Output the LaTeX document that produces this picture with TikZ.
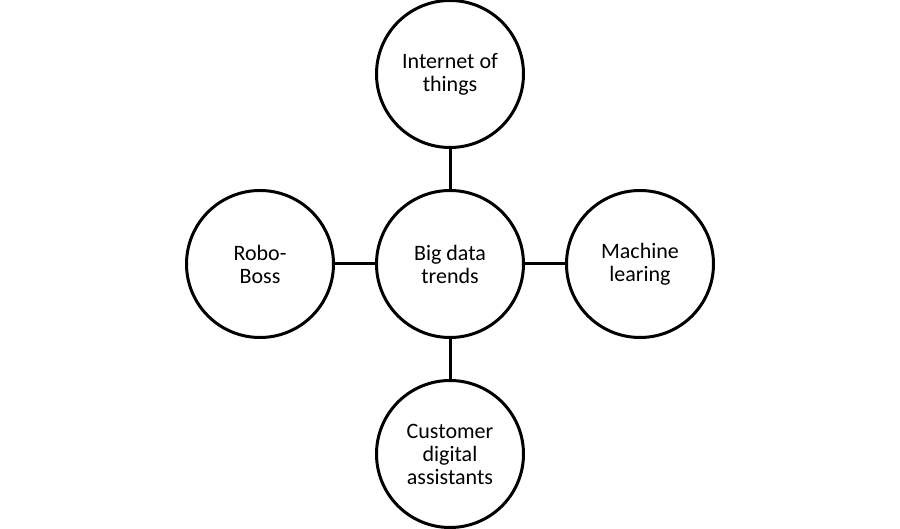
\documentclass[tikz,border=0pt]{standalone}
\usepackage{fontspec}
\setmainfont{Carlito}
\usetikzlibrary{positioning}

\begin{document}
\begin{tikzpicture}[x=1pt, y=1pt, node distance = 40pt,
  trend/.style={draw, shape=circle, line width=3pt, minimum size=147pt, inner sep=0pt, align=center, font=\fontsize{22}{23}\selectfont},
  link/.style={line width=3pt}]

      \useasboundingbox (0,0) rectangle (900,529);

      \node[trend] (bigdata) at (450,265) {Big data\\trends};

      \node[trend, above=of bigdata] (iot) {Internet of\\things};
      \node[trend, left=of bigdata] (roboboss) {Robo-\\Boss};
      \node[trend, right=of bigdata] (machine) {Machine\\learing};
      \node[trend, below=of bigdata] (assistants) {Customer\\digital\\assistants};

      \draw [link] (bigdata) -- (iot);
      \draw [link] (bigdata) -- (roboboss);
      \draw [link] (bigdata) -- (machine);
      \draw [link] (bigdata) -- (assistants);
\end{tikzpicture}
\end{document}
